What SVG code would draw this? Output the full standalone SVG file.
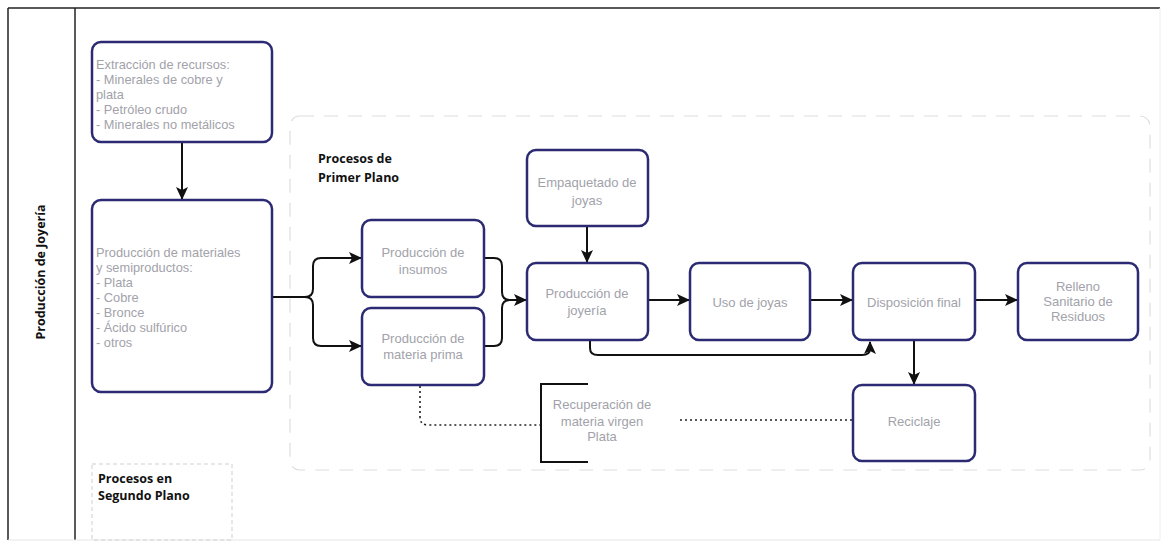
<svg xmlns="http://www.w3.org/2000/svg" width="1165" height="545" viewBox="0 0 1165 545">
<style>
.box{fill:#fff;stroke:#2b2a72;stroke-width:2.5}
.t{font-family:"Liberation Sans",Arial,sans-serif;font-size:13px;fill:#a2a2aa}
.tl{font-family:"Liberation Sans",Arial,sans-serif;font-size:12.8px;fill:#a2a2aa}
.tc{text-anchor:middle}
.b{font-family:"Open Sans","Liberation Sans",sans-serif;font-size:12.5px;font-weight:bold;fill:#111}
.ln{fill:none;stroke:#111;stroke-width:2}
.dot{fill:none;stroke:#222;stroke-width:1.6;stroke-dasharray:2 3}
</style>
<defs>
<marker id="ah" markerWidth="13" markerHeight="12" refX="12" refY="6" orient="auto" markerUnits="userSpaceOnUse"><path d="M0,0 L13,6 L0,12 L3,6 Z" fill="#111"/></marker>
</defs>
<rect width="1165" height="545" fill="#fff"/>
<g id="frame">
<line x1="8" y1="8" x2="1160" y2="8" stroke="#222" stroke-width="1.5"/>
<line x1="8" y1="8" x2="8" y2="540" stroke="#222" stroke-width="1.5"/>
<line x1="75" y1="8" x2="75" y2="540" stroke="#222" stroke-width="1.5"/>
<line x1="8" y1="540" x2="1160" y2="540" stroke="#e6e6e6" stroke-width="1"/>
<line x1="1160" y1="8" x2="1160" y2="540" stroke="#eeeeee" stroke-width="1"/>
<text class="b" transform="translate(45,272) rotate(-90)" text-anchor="middle">Producción de Joyería</text>
</g>
<g id="primer-plano">
<rect x="290" y="116" width="860" height="354" rx="10" fill="none" stroke="#dedede" stroke-width="1.2" stroke-dasharray="14 10"/>
<text class="b" x="318" y="163">Procesos de</text>
<text class="b" x="318" y="182">Primer Plano</text>
</g>
<g id="segundo-plano">
<rect x="92" y="464" width="140" height="76" fill="none" stroke="#cfcfcf" stroke-width="1" stroke-dasharray="4 3"/>
<text class="b" x="98" y="483">Procesos en</text>
<text class="b" x="98" y="500">Segundo Plano</text>
</g>
<g id="connectors">
<line class="ln" x1="182" y1="143" x2="182" y2="199" marker-end="url(#ah)"/>
<path class="ln" d="M273,297 H305 Q313,297 313,289 V266 Q313,258 321,258 H361" marker-end="url(#ah)"/>
<path class="ln" d="M305,297 Q313,297 313,305 V338 Q313,346 321,346 H361" marker-end="url(#ah)"/>
<path class="ln" d="M485,258 H494 Q502,258 502,266 V292 Q502,300 510,300 H526" marker-end="url(#ah)"/>
<path class="ln" d="M485,346 H494 Q502,346 502,338 V308 Q502,300 510,300"/>
<line class="ln" x1="587" y1="227" x2="587" y2="262" marker-end="url(#ah)"/>
<line class="ln" x1="649" y1="300" x2="689" y2="300" marker-end="url(#ah)"/>
<line class="ln" x1="811" y1="300" x2="852" y2="300" marker-end="url(#ah)"/>
<line class="ln" x1="976" y1="300" x2="1017" y2="300" marker-end="url(#ah)"/>
<path class="ln" d="M590,341 V348 Q590,355 598,355 H862 Q870,355 870,349 V342" marker-end="url(#ah)"/>
<line class="ln" x1="914" y1="341" x2="914" y2="384" marker-end="url(#ah)"/>
<path class="dot" d="M420,386 V417 Q420,425 428,425 H540"/>
<line class="dot" x1="852" y1="420" x2="680" y2="420"/>
<path d="M588,384 H541 V462 H588" fill="none" stroke="#111" stroke-width="2"/>
</g>
<g id="extraccion">
<rect class="box" x="92" y="42" width="180" height="100" rx="9"/>
<text class="tl" x="96" y="69">Extracción de recursos:</text>
<text class="tl" x="96" y="84">- Minerales de cobre y</text>
<text class="tl" x="96" y="99">plata</text>
<text class="tl" x="96" y="114">- Petróleo crudo</text>
<text class="tl" x="96" y="129">- Minerales no metálicos</text>
</g>
<g id="materiales">
<rect class="box" x="92" y="200" width="180" height="192" rx="9"/>
<text class="tl" x="96" y="257">Producción de materiales</text>
<text class="tl" x="96" y="272">y semiproductos:</text>
<text class="tl" x="96" y="287">- Plata</text>
<text class="tl" x="96" y="302">- Cobre</text>
<text class="tl" x="96" y="317">- Bronce</text>
<text class="tl" x="96" y="332">- Ácido sulfúrico</text>
<text class="tl" x="96" y="347">- otros</text>
</g>
<g id="insumos">
<rect class="box" x="362" y="220" width="122" height="77" rx="9"/>
<text class="t tc" x="423" y="257">Producción de</text>
<text class="t tc" x="423" y="274">insumos</text>
</g>
<g id="materia-prima">
<rect class="box" x="362" y="308" width="122" height="77" rx="9"/>
<text class="t tc" x="423" y="343">Producción de</text>
<text class="t tc" x="423" y="359">materia prima</text>
</g>
<g id="empaquetado">
<rect class="box" x="527" y="150" width="121" height="76" rx="9"/>
<text class="t tc" x="587" y="187">Empaquetado de</text>
<text class="t tc" x="587" y="205">joyas</text>
</g>
<g id="produccion-joyeria">
<rect class="box" x="527" y="263" width="121" height="77" rx="9"/>
<text class="t tc" x="587" y="298">Producción de</text>
<text class="t tc" x="587" y="315">joyería</text>
</g>
<g id="uso">
<rect class="box" x="690" y="263" width="120" height="77" rx="9"/>
<text class="t tc" x="750" y="307">Uso de joyas</text>
</g>
<g id="disposicion">
<rect class="box" x="853" y="263" width="122" height="77" rx="9"/>
<text class="t tc" x="914" y="307">Disposición final</text>
</g>
<g id="relleno">
<rect class="box" x="1018" y="263" width="120" height="77" rx="9"/>
<text class="t tc" x="1078" y="291">Relleno</text>
<text class="t tc" x="1078" y="306">Sanitario de</text>
<text class="t tc" x="1078" y="321">Residuos</text>
</g>
<g id="reciclaje">
<rect class="box" x="853" y="385" width="122" height="76" rx="9"/>
<text class="t tc" x="914" y="426">Reciclaje</text>
</g>
<g id="recuperacion">
<text class="t tc" x="602" y="409">Recuperación de</text>
<text class="t tc" x="602" y="426">materia virgen</text>
<text class="t tc" x="602" y="441">Plata</text>
</g>
</svg>
